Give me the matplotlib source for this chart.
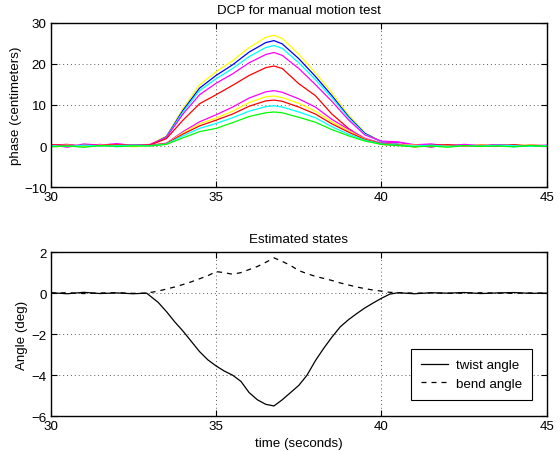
import matplotlib
matplotlib.use("Agg")
import matplotlib.pyplot as plt

plt.rcParams['font.family'] = ['Liberation Sans', 'DejaVu Sans']
plt.rcParams['font.size'] = 9.6

# --- top panel: DCP phase curves (centimeters) ---
t_dcp = [30.0, 30.5, 31.0, 31.5, 32.0, 32.5, 33.0, 33.5, 34.0, 34.5, 35.0, 35.5,
         36.0, 36.5, 36.75, 37.0, 37.5, 38.0, 38.5, 39.0, 39.5, 40.0, 40.5,
         41.0, 41.5, 42.0, 42.5, 43.0, 43.5, 44.0, 44.5, 45.0]

dcp_yellow = [0.2, -0.1, 0.3, 0.0, 0.2, -0.2,
              0.3, 2.4, 9.2, 14.9, 18.1, 20.8, 24.0, 26.5, 27.0, 26.2, 22.4, 17.8, 13.0, 7.6, 3.2, 1.1, 0.5,
              -0.2, 0.3, 0.1, -0.1, 0.2, 0.0, 0.3, -0.1, 0.1]
dcp_blue = [0.1, 0.2, -0.2, 0.3, 0.0, 0.1,
            0.2, 2.3, 8.7, 14.1, 17.2, 19.8, 22.9, 25.2, 25.7, 24.9, 21.3, 17.0, 12.3, 7.2, 3.1, 1.0, 0.4,
            0.1, -0.2, 0.2, 0.0, 0.1, -0.1, 0.2, 0.0, 0.1]
dcp_cyan = [-0.1, 0.2, 0.0, 0.3, -0.2, 0.2,
            0.2, 2.2, 8.3, 13.5, 16.4, 18.9, 21.8, 24.0, 24.5, 23.8, 20.3, 16.2, 11.8, 6.9, 2.9, 1.0, 0.4,
            0.0, 0.2, -0.1, 0.3, 0.0, 0.2, -0.2, 0.1, 0.0]
dcp_magenta = [0.3, -0.3, 0.5, 0.2, 0.6, 0.1,
               0.4, 2.1, 7.8, 12.5, 15.3, 17.6, 20.3, 22.3, 22.8, 22.1, 18.9, 15.0, 10.9, 6.4, 2.7, 1.2, 1.0,
               0.3, 0.5, 0.0, 0.4, 0.1, 0.3, -0.1, 0.2, 0.0]
dcp_red = [0.2, 0.4, -0.1, 0.3, 0.1, 0.2,
           0.2, 1.8, 6.3, 10.3, 12.5, 14.8, 17.2, 19.1, 19.5, 18.9, 15.2, 12.3, 7.8, 4.3, 1.6, 0.4, 0.2,
           0.3, -0.2, 0.2, 0.1, -0.1, 0.3, 0.0, 0.2, 0.1]
dcp_magenta2 = [0.1, 0.3, 0.0, 0.4, -0.1, 0.3,
                0.1, 0.7, 3.5, 5.9, 7.6, 9.5, 11.7, 13.2, 13.5, 13.1, 11.5, 9.5, 6.5, 4.1, 1.9, 0.7, 0.9,
                0.2, 0.4, 0.1, 0.2, -0.1, 0.3, 0.1, 0.0, 0.2]
dcp_yellow2 = [0.0, 0.2, -0.1, 0.2, 0.1, 0.0,
               0.1, 0.6, 3.2, 5.4, 6.8, 8.5, 10.6, 12.0, 12.2, 11.8, 10.4, 8.5, 5.9, 3.7, 1.7, 0.6, 0.3,
               0.2, 0.0, 0.1, -0.1, 0.2, 0.0, 0.1, 0.2, 0.0]
dcp_red2 = [0.3, 0.0, 0.2, 0.1, 0.3, 0.2,
            0.2, 0.6, 2.9, 4.9, 6.3, 7.8, 9.7, 11.0, 11.2, 10.9, 9.5, 7.8, 5.4, 3.4, 1.6, 0.6, 0.3,
            -0.2, 0.2, 0.3, 0.0, 0.2, 0.1, 0.3, 0.0, 0.1]
dcp_cyan2 = [0.1, -0.1, 0.2, 0.0, 0.1, 0.2,
             0.1, 0.5, 2.5, 4.3, 5.5, 6.9, 8.5, 9.6, 9.8, 9.5, 8.3, 6.9, 4.7, 2.9, 1.4, 0.5, 0.2,
             0.0, 0.2, -0.1, 0.1, 0.0, 0.2, 0.1, -0.1, 0.1]
dcp_green = [-0.2, 0.0, -0.3, 0.1, -0.1, 0.0,
             0.0, 0.4, 2.0, 3.5, 4.3, 5.7, 7.2, 8.1, 8.3, 8.1, 7.0, 5.8, 4.0, 2.5, 1.2, 0.4, 0.1,
             -0.2, 0.0, -0.3, 0.1, -0.1, 0.0, -0.2, 0.1, -0.1]

dcp_series = [dcp_yellow, dcp_blue, dcp_cyan, dcp_magenta, dcp_red,
              dcp_magenta2, dcp_yellow2, dcp_red2, dcp_cyan2, dcp_green]
dcp_colors = ['#ffff00', '#0000ff', '#00ffff', '#ff00ff', '#ff0000',
              '#ff00ff', '#ffff00', '#ff0000', '#00ffff', '#00ff00']

# --- bottom panel: estimated states (deg) ---
t_est = [30.0, 30.5, 31.0, 31.5, 32.0, 32.5, 32.9, 33.25, 33.5, 33.75, 34.0, 34.25,
         34.5, 34.75, 35.0, 35.25, 35.5, 35.75, 36.0, 36.25, 36.5, 36.75, 37.0,
         37.25, 37.5, 37.75, 38.0, 38.25, 38.5, 38.75, 39.0, 39.25, 39.5, 39.75,
         40.0, 40.25, 40.5, 41.0, 41.5, 42.0, 42.5, 43.0, 43.5, 44.0, 44.5, 45.0]
twist = [0.02, -0.03, 0.04, -0.02, 0.01, -0.03, 0.0, -0.45, -0.9, -1.4, -1.85, -2.35,
         -2.85, -3.25, -3.55, -3.8, -4.0, -4.3, -4.85, -5.2, -5.42, -5.5, -5.2,
         -4.85, -4.5, -4.0, -3.3, -2.7, -2.15, -1.65, -1.3, -1.0, -0.72, -0.48,
         -0.25, -0.05, 0.02, -0.03, 0.02, 0.0, 0.03, -0.02, 0.01, 0.03, -0.01, 0.0]
bend = [0.0, 0.02, -0.02, 0.01, 0.02, -0.01, 0.0, 0.1, 0.2, 0.3, 0.42, 0.55,
        0.7, 0.85, 1.05, 1.0, 0.92, 1.0, 1.15, 1.3, 1.5, 1.72, 1.55,
        1.35, 1.1, 0.95, 0.82, 0.72, 0.62, 0.5, 0.4, 0.3, 0.22, 0.15,
        0.1, 0.04, 0.02, 0.0, 0.01, -0.01, 0.0, 0.02, 0.0, -0.01, 0.01, 0.0]

fig = plt.figure(figsize=(5.6, 4.52), dpi=100)
ax1 = fig.add_axes([0.0905, 0.584, 0.886, 0.363])
ax2 = fig.add_axes([0.0905, 0.077, 0.886, 0.363])


def matlab_style(ax):
    ax.grid(True, linestyle=(0, (1, 3)), color='0.35', linewidth=0.7)
    ax.tick_params(direction='in', top=True, right=True, length=4, width=0.8,
                   labelsize=9.6, pad=3)
    for s in ax.spines.values():
        s.set_linewidth(1.0)


for vals, c in zip(dcp_series, dcp_colors):
    ax1.plot(t_dcp, vals, color=c, linewidth=0.9)
ax1.set_xlim(30, 45)
ax1.set_ylim(-10, 30)
ax1.set_xticks([30, 35, 40, 45])
ax1.set_yticks([-10, 0, 10, 20, 30])
ax1.set_ylabel('phase (centimeters)', labelpad=1)
ax1.set_title('DCP for manual motion test', fontsize=9.6, pad=7)
matlab_style(ax1)

ax2.plot(t_est, twist, color='black', linewidth=0.9, linestyle='-', label='twist angle')
ax2.plot(t_est, bend, color='black', linewidth=0.9, linestyle=(0, (4, 4)), label='bend angle')
ax2.set_xlim(30, 45)
ax2.set_ylim(-6, 2)
ax2.set_xticks([30, 35, 40, 45])
ax2.set_yticks([-6, -4, -2, 0, 2])
ax2.set_ylabel('Angle (deg)', labelpad=2)
ax2.set_xlabel('time (seconds)', labelpad=3)
ax2.set_title('Estimated states', fontsize=9.6, pad=7)
matlab_style(ax2)
leg = ax2.legend(loc='lower right', bbox_to_anchor=(0.97, 0.1), borderaxespad=0,
                 fancybox=False, framealpha=1, edgecolor='black', fontsize=9.6,
                 handlelength=2.0, borderpad=0.75, labelspacing=0.45, handletextpad=0.6)
leg.get_frame().set_linewidth(0.8)

fig.savefig('out.png', dpi=100)
